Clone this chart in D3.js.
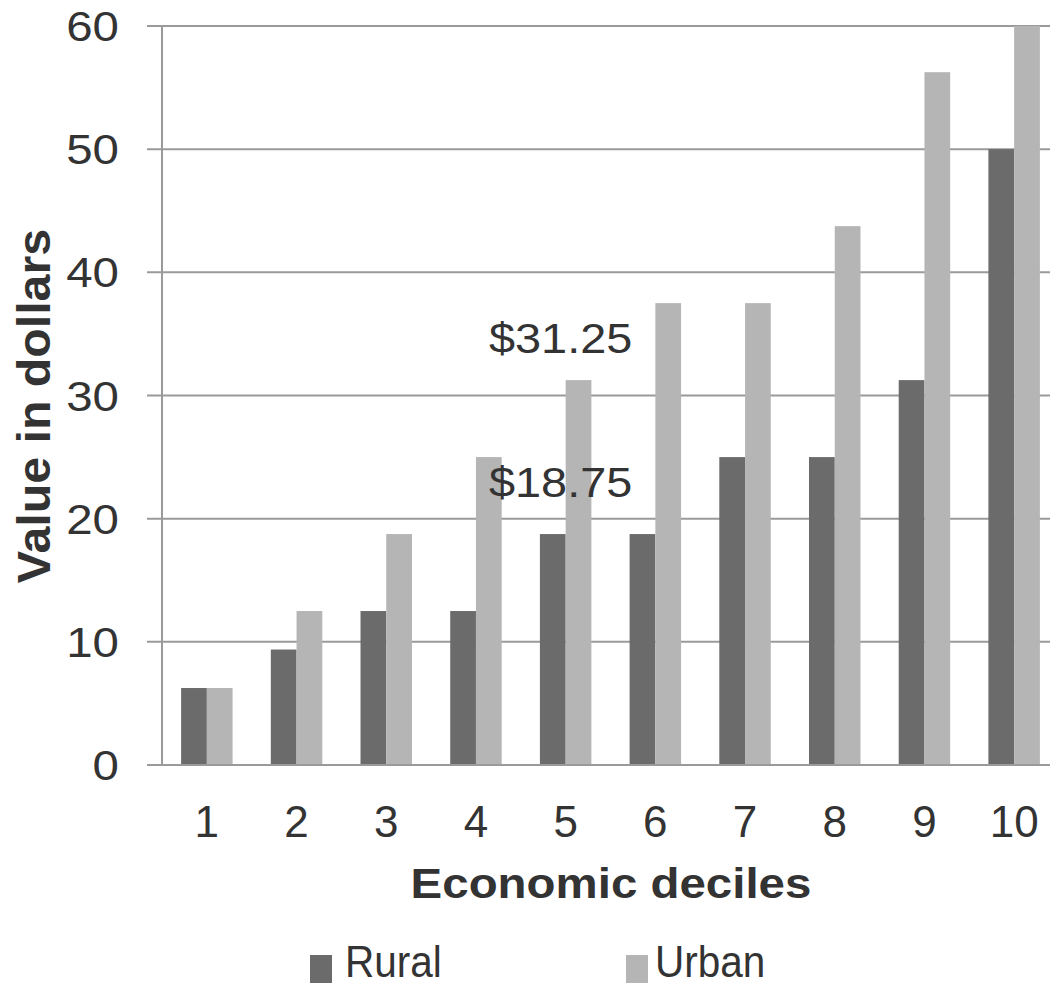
<!DOCTYPE html>
<html><head><meta charset="utf-8">
<script src="https://cdn.jsdelivr.net/npm/d3@7"></script>
<style>body{margin:0;background:#fff}svg{display:block}text{font-family:"Liberation Sans",Arial,sans-serif;fill:#333}</style>
</head><body>
<script>
const categories = ["1","2","3","4","5","6","7","8","9","10"];
const seriesNames = ["Rural","Urban"];
const rural = [6.25, 9.375, 12.5, 12.5, 18.75, 18.75, 25, 25, 31.25, 50];
const urban = [6.25, 12.5, 18.75, 25, 31.25, 37.5, 37.5, 43.75, 56.25, 60];
const yTicks = [0,10,20,30,40,50,60];
const colors = ["#6b6b6b","#b5b5b5"];
const annotations = [{cat:"5", value:31.25, text:"$31.25", off:27},{cat:"5", value:18.75, text:"$18.75", off:37}];

(function(){
const W=1050,H=987;
const pLeft=162, pRight=162+10*89.7, pTop=26, pBottom=765;
const svg=d3.select("body").append("svg").attr("width",W).attr("height",H);

const x0=d3.scaleBand().domain(categories).range([pLeft,pRight]).paddingInner(0.426).paddingOuter(0.213);
const x1=d3.scaleBand().domain(seriesNames).range([0,x0.bandwidth()]);
const y=d3.scaleLinear().domain([0,60]).range([pBottom,pTop]);

svg.append("g").selectAll("line").data(yTicks).join("line")
  .attr("x1",147).attr("x2",W).attr("y1",d=>y(d)).attr("y2",d=>y(d))
  .attr("stroke","#9a9a9a").attr("stroke-width",2);
svg.append("line").attr("x1",pLeft).attr("x2",pLeft).attr("y1",pTop).attr("y2",pBottom)
  .attr("stroke","#9a9a9a").attr("stroke-width",2);

const data = categories.map((c,i)=>({c, vals:[rural[i],urban[i]]}));
const g=svg.append("g");
g.selectAll("g").data(data).join("g").attr("transform",d=>`translate(${x0(d.c)},0)`)
 .selectAll("rect").data(d=>d.vals.map((v,j)=>({v,s:seriesNames[j],j})))
 .join("rect").attr("x",d=>x1(d.s)).attr("width",x1.bandwidth())
 .attr("y",d=>y(d.v)).attr("height",d=>pBottom-y(d.v)).attr("fill",d=>colors[d.j]);

svg.append("line").attr("x1",147).attr("x2",W).attr("y1",pBottom).attr("y2",pBottom)
  .attr("stroke","#9a9a9a").attr("stroke-width",2);

// y tick labels
svg.append("g").selectAll("text").data(yTicks).join("text")
  .attr("transform",d=>`translate(119,${y(d)}) scale(1.13,1)`).attr("dy","0.36em").attr("text-anchor","end")
  .attr("font-size",42).text(d=>d);
// x tick labels
svg.append("g").selectAll("text").data(categories).join("text")
  .attr("x",d=>x0(d)+x0.bandwidth()/2).attr("y",837).attr("text-anchor","middle")
  .attr("font-size",44).text(d=>d);

// annotations
svg.append("g").selectAll("text").data(annotations).join("text")
  .attr("transform",d=>`translate(${x0(d.cat)+x0.bandwidth()/2-5},${y(d.value)-d.off}) scale(1.09,1)`)
  .attr("text-anchor","middle").attr("font-size",43).text(d=>d.text);

// axis titles
svg.append("text").attr("transform","translate(611,898) scale(1.13,1)").attr("text-anchor","middle")
  .attr("font-size",42).attr("font-weight","bold").text("Economic deciles");
svg.append("text").attr("transform","translate(50,406) rotate(-90) scale(1.05,1)").attr("text-anchor","middle")
  .attr("font-size",46).attr("font-weight","bold").text("Value in dollars");

// legend
const legX=[310,626];
const lg=svg.append("g").selectAll("g").data(seriesNames).join("g")
  .attr("transform",(d,i)=>`translate(${legX[i]},955)`);
lg.append("rect").attr("width",22).attr("height",28).attr("fill",(d,i)=>colors[i]);
lg.append("text").attr("transform",(d,i)=>`translate(${i===0?35:29},22) scale(0.9,1)`)
  .attr("font-size",45).text(d=>d);
})();
</script>
</body></html>
